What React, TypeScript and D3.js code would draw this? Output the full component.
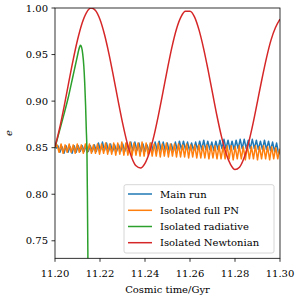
import React from "react";
import * as d3 from "d3";

// ---- data ----
const xTicks = [11.2, 11.22, 11.24, 11.26, 11.28, 11.3];
const yTicks = [0.75, 0.8, 0.85, 0.9, 0.95, 1.0];

// sampled on a regular grid starting at 11.20 with step 0.0009 Gyr
const noiseStart = 11.2;
const noiseStep = 0.0009;
const mainRun = [
  0.849, 0.852, 0.845, 0.851, 0.844, 0.852, 0.845, 0.851, 0.844, 0.852,
  0.845, 0.852, 0.846, 0.852, 0.846, 0.853, 0.846, 0.852, 0.846, 0.853,
  0.846, 0.855, 0.847, 0.856, 0.847, 0.855, 0.846, 0.854, 0.846, 0.853,
  0.846, 0.853, 0.846, 0.854, 0.846, 0.855, 0.847, 0.856, 0.847, 0.856,
  0.847, 0.855, 0.846, 0.854, 0.846, 0.853, 0.846, 0.855, 0.847, 0.856,
  0.847, 0.857, 0.847, 0.856, 0.847, 0.855, 0.846, 0.854, 0.846, 0.856,
  0.847, 0.857, 0.848, 0.857, 0.848, 0.856, 0.847, 0.855, 0.847, 0.856,
  0.848, 0.857, 0.848, 0.858, 0.848, 0.857, 0.848, 0.856, 0.847, 0.857,
  0.848, 0.858, 0.849, 0.859, 0.849, 0.858, 0.848, 0.857, 0.848, 0.858,
  0.849, 0.859, 0.849, 0.859, 0.849, 0.858, 0.849, 0.859, 0.849, 0.858,
  0.848, 0.857, 0.848, 0.858, 0.848, 0.857, 0.847, 0.856, 0.846, 0.855,
  0.843, 0.848,
];
const fullPN = [
  0.85, 0.853, 0.845, 0.854, 0.844, 0.853, 0.845, 0.854, 0.845, 0.853,
  0.844, 0.854, 0.845, 0.853, 0.844, 0.854, 0.845, 0.854, 0.844, 0.853,
  0.844, 0.854, 0.843, 0.854, 0.844, 0.855, 0.843, 0.854, 0.843, 0.855,
  0.842, 0.855, 0.843, 0.856, 0.842, 0.855, 0.842, 0.856, 0.841, 0.855,
  0.842, 0.855, 0.841, 0.856, 0.841, 0.855, 0.842, 0.855, 0.841, 0.854,
  0.841, 0.855, 0.84, 0.854, 0.841, 0.855, 0.84, 0.854, 0.841, 0.854,
  0.84, 0.854, 0.84, 0.853, 0.84, 0.854, 0.839, 0.853, 0.84, 0.853,
  0.839, 0.853, 0.839, 0.852, 0.839, 0.853, 0.838, 0.852, 0.839, 0.852,
  0.838, 0.852, 0.838, 0.851, 0.838, 0.852, 0.838, 0.852, 0.837, 0.851,
  0.838, 0.852, 0.838, 0.851, 0.837, 0.852, 0.838, 0.851, 0.838, 0.852,
  0.837, 0.851, 0.838, 0.852, 0.838, 0.851, 0.837, 0.851, 0.838, 0.85,
  0.838, 0.849,
];

const radiativeT = [11.2, 11.202, 11.204, 11.206, 11.208, 11.209, 11.21, 11.2105, 11.211, 11.2113, 11.2118, 11.2123, 11.2128, 11.2132, 11.2136, 11.2139, 11.2142, 11.2144, 11.2146, 11.2147];
const radiativeE = [0.85, 0.868, 0.886, 0.905, 0.927, 0.938, 0.949, 0.9545, 0.9585, 0.96, 0.958, 0.951, 0.938, 0.92, 0.895, 0.87, 0.845, 0.8, 0.74, 0.7];

// sampled every 0.002 Gyr from 11.20
const newtStart = 11.2;
const newtStep = 0.002;
const newtonian = [
  0.8507, 0.8703, 0.8936, 0.9188, 0.9435, 0.9656, 0.9834, 0.9951, 0.9999, 0.9973,
  0.9876, 0.9715, 0.9505, 0.9263, 0.9011, 0.877, 0.856, 0.8401, 0.8305, 0.8281,
  0.8331, 0.845, 0.8629, 0.8852, 0.9099, 0.935, 0.9583, 0.9775, 0.9905, 0.9965,
  0.9965, 0.9905, 0.9765, 0.957, 0.9338, 0.9088, 0.884, 0.8618, 0.844, 0.832,
  0.8265, 0.829, 0.8388, 0.8548, 0.8758, 0.8998, 0.924, 0.9465, 0.9655, 0.979, 0.988,
];

const seriesNames = ["Main run", "Isolated full PN", "Isolated radiative", "Isolated Newtonian"];
const colors = ["#1f77b4", "#ff7f0e", "#2ca02c", "#d62728"];

// ---- layout ----
const W = 300, H = 300;
const L = 55, R = 280, T = 8, B = 258.3;
const FONT = "'DejaVu Serif', serif";
const txt = { fontFamily: FONT, fontSize: "10px" } as React.CSSProperties;

export default function App() {
  const x = d3.scaleLinear().domain([11.2, 11.3]).range([L, R]);
  const y = d3.scaleLinear().domain([0.7312, 1.0]).range([B, T]);

  const line = d3.line<[number, number]>()
    .x((d) => x(d[0]))
    .y((d) => y(d[1]));
  const smooth = d3.line<[number, number]>()
    .x((d) => x(d[0]))
    .y((d) => y(d[1]))
    .curve(d3.curveMonotoneX);

  const mainPts = mainRun.map((v, i) => [noiseStart + 0.0004 + i * noiseStep, v] as [number, number]);
  const pnPts = fullPN.map((v, i) => [noiseStart + i * noiseStep, v] as [number, number]);
  const radPts = radiativeT.map((t, i) => [t, radiativeE[i]] as [number, number]);
  const newtPts = newtonian.map((v, i) => [newtStart + i * newtStep, v] as [number, number]);

  const paths = [line(mainPts), line(pnPts), smooth(radPts), smooth(newtPts)];

  const legX = 124, legY = 184.7, legW = 150, legH = 68.3;
  const rowY = [194, 210.3, 226.5, 242.7];

  return (
    <svg width={W} height={H} style={{ position: "absolute", left: 0, top: 0 }}>
      <rect x={0} y={0} width={W} height={H} fill="#fff" />
      <defs>
        <clipPath id="plotclip">
          <rect x={L} y={T} width={R - L} height={B - T} />
        </clipPath>
      </defs>
      <g clipPath="url(#plotclip)">
        {paths.map((p, i) => (
          <path key={i} d={p || ""} fill="none" stroke={colors[i]} strokeWidth={1.5} strokeLinejoin="round" />
        ))}
      </g>
      {/* frame */}
      <rect x={L} y={T} width={R - L} height={B - T} fill="none" stroke="#000" strokeWidth={0.8} />
      {/* x ticks */}
      {xTicks.map((t) => (
        <g key={t}>
          <line x1={x(t)} x2={x(t)} y1={B} y2={B + 3.5} stroke="#000" strokeWidth={0.8} />
          <text x={x(t)} y={B + 18.5} style={txt} textAnchor="middle" fill="#000">
            {d3.format(".2f")(t)}
          </text>
        </g>
      ))}
      {/* y ticks */}
      {yTicks.map((t) => (
        <g key={t}>
          <line x1={L - 3.5} x2={L} y1={y(t)} y2={y(t)} stroke="#000" strokeWidth={0.8} />
          <text x={L - 7} y={y(t) + 3.6} style={txt} textAnchor="end" fill="#000">
            {d3.format(".2f")(t)}
          </text>
        </g>
      ))}
      <text x={(L + R) / 2} y={293} style={txt} textAnchor="middle" fill="#000">
        Cosmic time/Gyr
      </text>
      <text
        transform={`translate(12,${(T + B) / 2}) rotate(-90)`}
        style={{ ...txt, fontStyle: "italic" }}
        textAnchor="middle"
        fill="#000"
      >
        e
      </text>
      {/* legend */}
      <rect x={legX} y={legY} width={legW} height={legH} rx={2} fill="#fff" fillOpacity={0.8} stroke="#cccccc" strokeWidth={0.8} />
      {seriesNames.map((n, i) => (
        <g key={n}>
          <line x1={128} x2={152} y1={rowY[i]} y2={rowY[i]} stroke={colors[i]} strokeWidth={1.5} />
          <text x={160} y={rowY[i] + 3.6} style={txt} fill="#000">
            {n}
          </text>
        </g>
      ))}
    </svg>
  );
}
